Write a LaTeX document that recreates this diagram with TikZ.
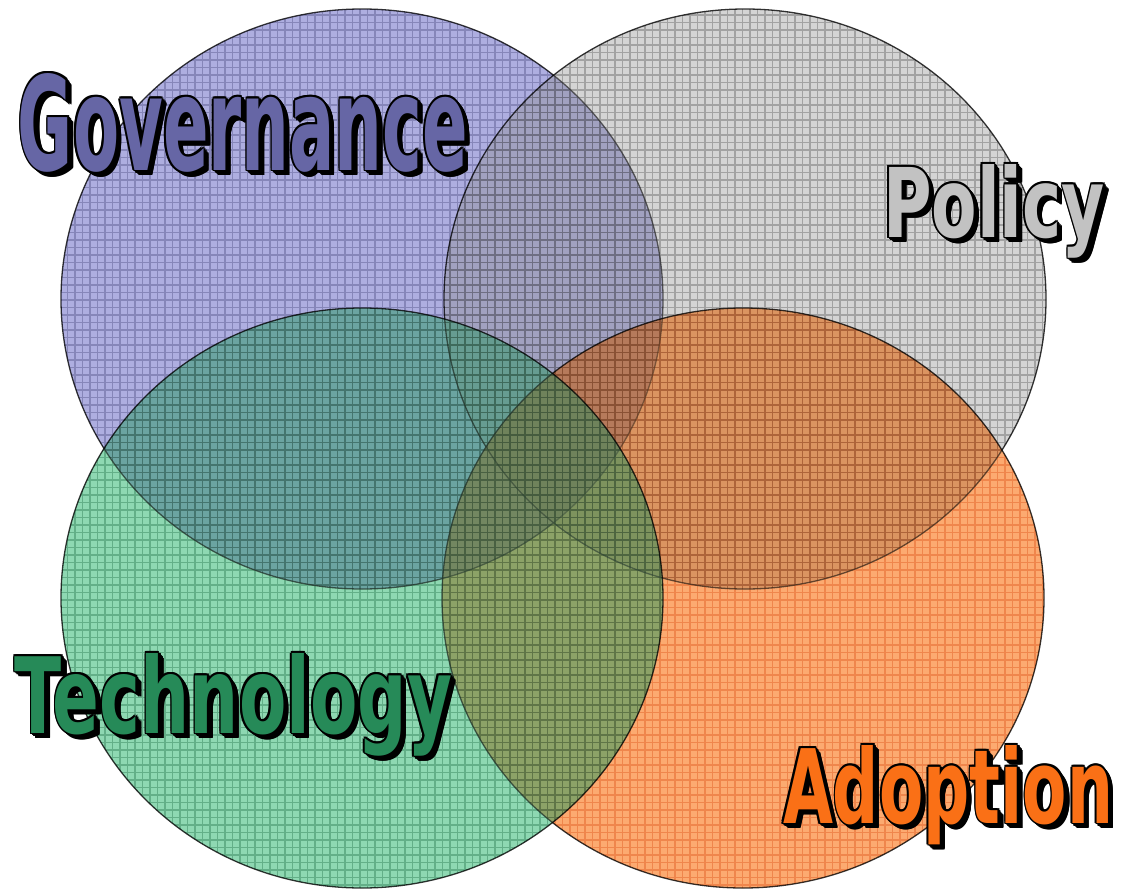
\documentclass[tikz,border=0pt]{standalone}
\usepackage{fontspec}
\newfontfamily\lblfont{DejaVu Sans}
\definecolor{govfill}{RGB}{174,174,224}
\definecolor{polfill}{RGB}{212,212,212}
\definecolor{adofill}{RGB}{252,170,112}
\definecolor{tecfill}{RGB}{142,216,178}
\definecolor{govline}{RGB}{178,178,198}
\definecolor{polline}{RGB}{176,176,176}
\definecolor{adoline}{RGB}{238,184,146}
\definecolor{tecline}{RGB}{154,192,175}
\definecolor{edgecol}{RGB}{55,55,55}
\definecolor{govtxt}{RGB}{102,102,165}
\definecolor{poltxt}{RGB}{194,194,194}
\definecolor{tectxt}{RGB}{38,138,88}
\definecolor{adotxt}{RGB}{250,112,22}
\newcommand\labeltext[3]{\resizebox{#1}{#2}{\lblfont\bfseries #3}}
\tikzset{
  edgeline/.style={draw=edgecol, line width=1.3pt},
  gridline/.style={line width=1.05pt},
  lbl/.style={anchor=base west, inner sep=0pt, outer sep=0pt},
  shadowlbl/.style={lbl, text=black}
}
\newcommand\shadowoffsets{-1.7/0, 1.7/0, 0/-1.7, 0/1.7, -1.2/-1.2, 1.2/-1.2, -1.2/1.2, 1.2/1.2,
    0.4/1.7, 1.7/0.4, 2.0/2.0, 0.9/2.4, 2.4/0.9,
    1.4/3.0, 3.0/1.4, 3.0/3.0, 2.2/3.8, 3.8/2.2,
    3.2/4.6, 4.6/3.2, 4.0/4.0, 4.6/4.6, 5.2/4.0, 4.0/5.2, 5.3/5.3}
\newcommand\gridcircle[4]{% cx, cy, fill, line
  \begin{scope}[blend mode=multiply]
    \begin{scope}
      \clip (#1,#2) ellipse [x radius=301, y radius=290];
      \fill[#3] (#1-310,#2-300) rectangle (#1+310,#2+300);
      \draw[#4, gridline, step=7.5pt] (#1-310,#2-300) grid (#1+310,#2+300);
    \end{scope}
  \end{scope}
  \begin{scope}[blend mode=normal]
    \fill[#3, fill opacity=0.25] (#1,#2) ellipse [x radius=301, y radius=290];
  \end{scope}
  \begin{scope}[blend mode=multiply]
    \draw[edgeline] (#1,#2) ellipse [x radius=301, y radius=290];
  \end{scope}
}
% name, x, y, colour, width, height, text
\newcommand\fancylabel[7]{%
  \foreach \dx/\dy [count=\i] in \shadowoffsets {
    \node[shadowlbl] (#1s\i) at (#2+\dx,#3+\dy) {\labeltext{#5}{#6}{#7}};
  }
  \node[lbl, text=#4] (#1) at (#2,#3) {\labeltext{#5}{#6}{#7}};
}
\begin{document}
\begin{tikzpicture}[x=1pt,y=-1pt]
  \useasboundingbox[fill=white] (0,0) rectangle (1125,889);
  \gridcircle{362}{299}{govfill}{govline}
  \gridcircle{745}{299}{polfill}{polline}
  \gridcircle{743}{598}{adofill}{adoline}
  \gridcircle{362}{598}{tecfill}{tecline}
  \begin{scope}[blend mode=normal]
  \fancylabel{gov}{18}{170}{govtxt}{450pt}{97pt}{Governance}
  \fancylabel{pol}{883}{237}{poltxt}{222pt}{73pt}{Policy}
  \fancylabel{tec}{15}{733}{tectxt}{437pt}{80pt}{Technology}
  \fancylabel{ado}{783}{823}{adotxt}{330pt}{78pt}{Adoption}
  \end{scope}
\end{tikzpicture}
\end{document}
